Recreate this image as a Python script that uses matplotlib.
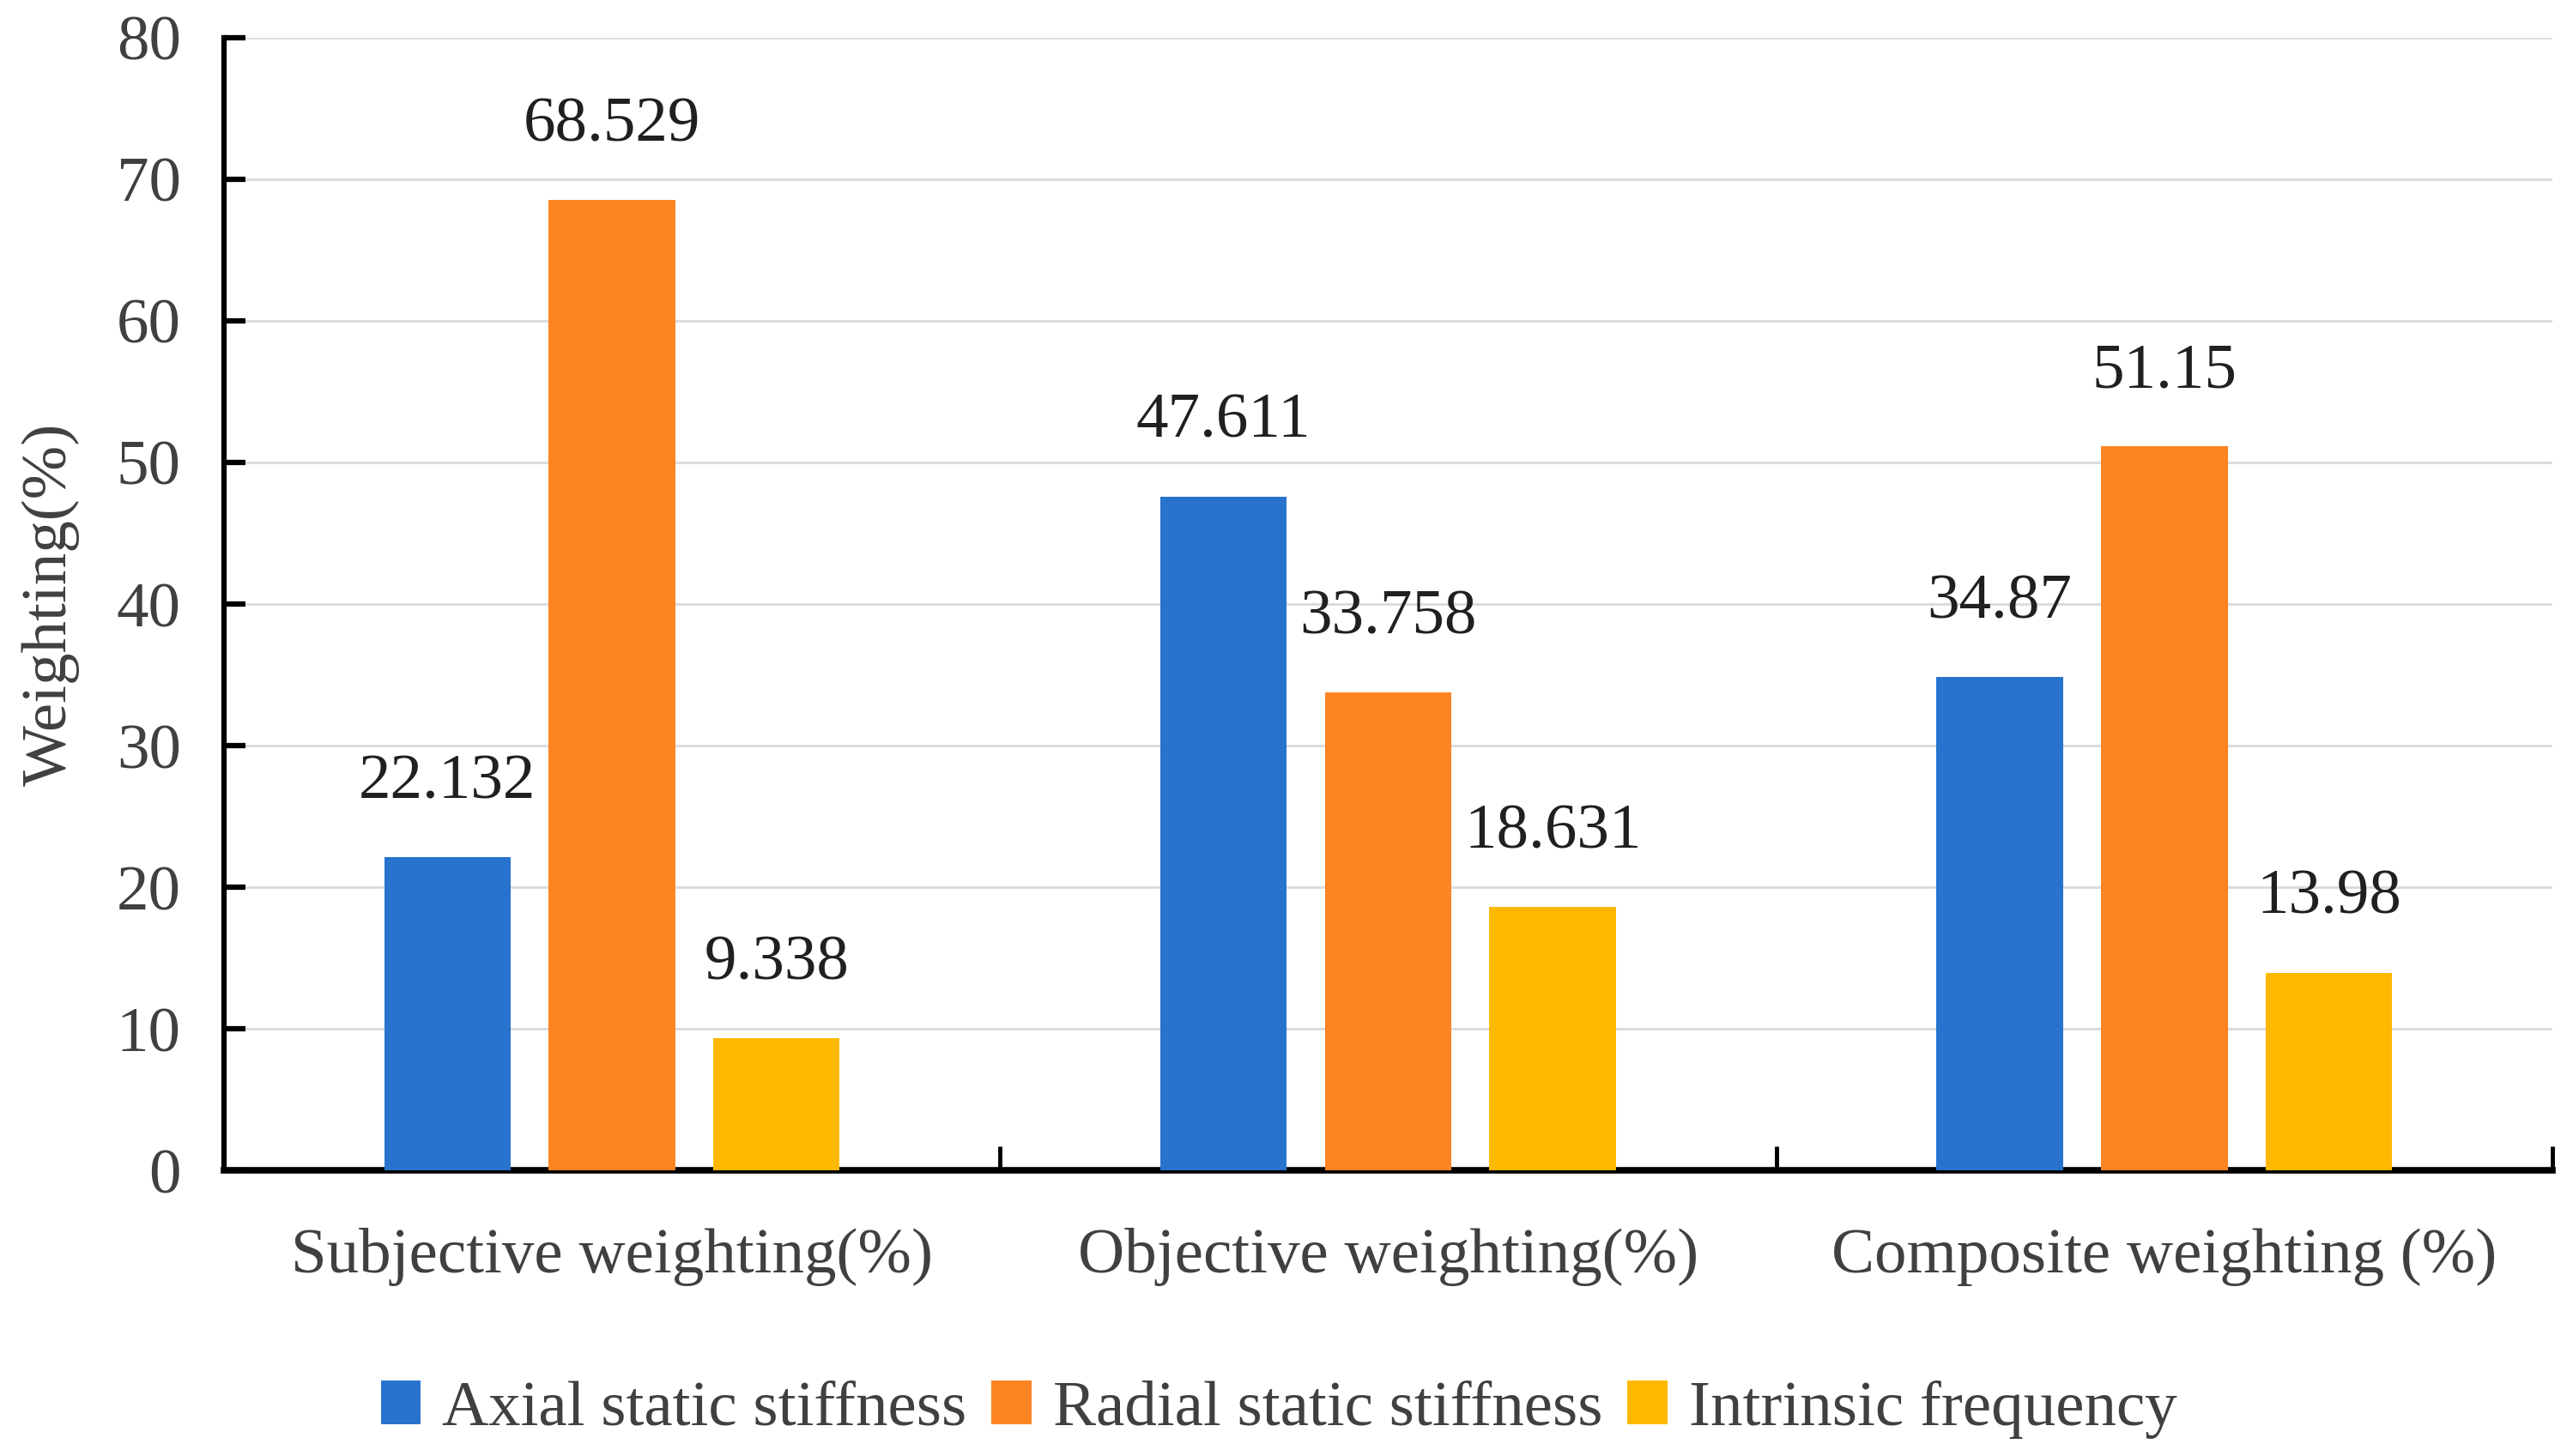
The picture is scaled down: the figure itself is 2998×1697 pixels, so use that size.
import matplotlib
matplotlib.use('Agg')
import numpy as np
import matplotlib.pyplot as plt

plt.rcParams['font.family'] = ['Liberation Serif', 'DejaVu Serif']

categories = ['Subjective weighting(%)', 'Objective weighting(%)', 'Composite weighting (%)']
series_names = ['Axial static stiffness', 'Radial static stiffness', 'Intrinsic frequency']
axial = [22.132, 47.611, 34.87]
radial = [68.529, 33.758, 51.15]
intrinsic = [9.338, 18.631, 13.98]
value_labels = [['22.132', '47.611', '34.87'],
                ['68.529', '33.758', '51.15'],
                ['9.338', '18.631', '13.98']]
colors = ['#2773CE', '#FD8423', '#FEB800']
yticks = [0, 10, 20, 30, 40, 50, 60, 70, 80]

txt = '#404040'
fs = 54

fig = plt.figure(figsize=(29.98, 16.97), dpi=100)
ax = fig.add_axes([0.087, 0.196, 0.905, 0.778])

x = np.arange(len(categories))
w = 0.163
pitch = 0.212
for i, (vals, name) in enumerate(zip([axial, radial, intrinsic], series_names)):
    pos = x + (i - 1) * pitch
    ax.bar(pos, vals, width=w, color=colors[i], label=name, zorder=3)
    for p, v, lab in zip(pos, vals, value_labels[i]):
        ax.annotate(lab, (p, v), xytext=(0, 38), textcoords='offset points',
                    ha='center', va='bottom', fontsize=fs, color='#202020')

ax.set_xlim(-0.5, 2.5)
ax.set_ylim(0, 80)
ax.set_yticks(yticks)
ax.set_yticklabels([str(t) for t in yticks], fontsize=fs, color=txt)
ax.set_xticks(x)
ax.set_xticklabels(categories, fontsize=fs, color=txt)
ax.set_xticks([0.5, 1.5, 2.5], minor=True)
ax.tick_params(axis='x', which='major', length=0, pad=48)
ax.tick_params(axis='x', which='minor', direction='in', length=20, width=3.5)
ax.tick_params(axis='y', direction='in', length=18, width=4.5, pad=36)

ax.grid(axis='y', color='#DCDCDC', linewidth=2.2, zorder=0)
ax.set_axisbelow(True)
for s in ['top', 'right']:
    ax.spines[s].set_visible(False)
ax.spines['left'].set_linewidth(4.5)
ax.spines['bottom'].set_linewidth(5.5)

ax.set_ylabel('Weighting(%)', fontsize=fs, color=txt)
ax.yaxis.set_label_coords(-0.062, 0.5)

fig.legend(loc='center', bbox_to_anchor=(0.497, 0.032), ncol=3, frameon=False,
           fontsize=fs, handlelength=0.62, handleheight=0.68, handletextpad=0.33,
           columnspacing=0.39, labelcolor=txt)

plt.savefig('out.png', dpi=100)
